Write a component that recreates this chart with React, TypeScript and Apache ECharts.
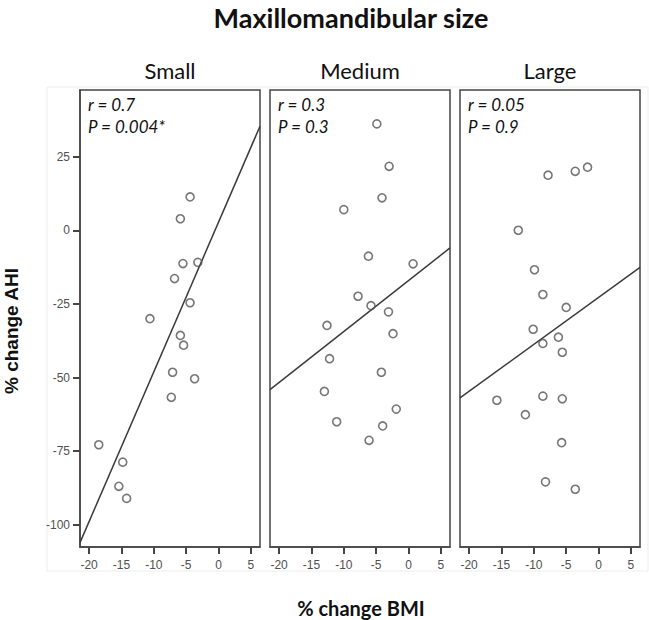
import React, { useEffect, useRef } from "react";
import * as echarts from "echarts";

const panelNames = ["Small", "Medium", "Large"];
const statR = ["r = 0.7", "r = 0.3", "r = 0.05"];
const statP = ["P = 0.004*", "P = 0.3", "P = 0.9"];

const xTicks = [-20, -15, -10, -5, 0, 5];
const yTicks = [-100, -75, -50, -25, 0, 25];

const smallBMI = [-4.4, -5.9, -5.5, -3.2, -6.8, -4.4, -10.6, -5.9, -5.4, -7.1, -3.7, -7.3, -18.5, -14.8, -15.4, -14.2];
const smallAHI = [11.3, 3.9, -11.3, -10.9, -16.4, -24.6, -30, -35.7, -39, -48.2, -50.4, -56.7, -72.8, -78.7, -86.9, -91];

const mediumBMI = [-4.9, -3.0, -4.1, -10.0, -6.2, 0.7, -7.8, -5.8, -3.1, -12.6, -2.4, -12.2, -4.2, -13.0, -1.9, -11.1, -4.0, -6.1];
const mediumAHI = [36.1, 21.7, 11.0, 7.0, -8.8, -11.4, -22.4, -25.6, -27.7, -32.3, -35.1, -43.6, -48.2, -54.7, -60.7, -65.0, -66.4, -71.3];

const largeBMI = [-7.8, -3.6, -1.7, -12.4, -9.9, -8.6, -5.0, -10.1, -6.2, -8.6, -5.6, -15.7, -8.6, -5.6, -11.3, -5.7, -8.2, -3.6];
const largeAHI = [18.7, 20.0, 21.4, 0.0, -13.4, -21.8, -26.2, -33.6, -36.3, -38.4, -41.4, -57.7, -56.3, -57.2, -62.6, -72.1, -85.4, -87.9];

const fitX = [-21.4, 6.4];
const smallFitY = [-106, 35.3];
const mediumFitY = [-54.1, -6];
const largeFitY = [-56.9, -12.6];

const X_MIN = -21.4;
const X_MAX = 6.4;
const Y_MIN = -107.5;
const Y_MAX = 47.6;

export default function App() {
  const ref = useRef<HTMLDivElement>(null);

  useEffect(() => {
    document.body.style.margin = "0";
    if (!ref.current) return;
    const chart = echarts.init(ref.current, null, { renderer: "svg" });

    const lefts = [80, 270, 460];
    const panelW = 180;
    const top = 90;
    const height = 457;

    const xs = [smallBMI, mediumBMI, largeBMI];
    const ys = [smallAHI, mediumAHI, largeAHI];
    const fits = [smallFitY, mediumFitY, largeFitY];

    const frameColor = "#454545";

    const grids = lefts.map((l) => ({
      left: l,
      top,
      width: panelW,
      height,
      show: true,
      borderColor: frameColor,
      borderWidth: 1.5,
      backgroundColor: "transparent",
    }));

    const xAxes = lefts.map((_, i) => ({
      type: "value",
      gridIndex: i,
      min: X_MIN,
      max: X_MAX,
      position: "bottom",
      splitLine: { show: false },
      axisLine: { show: true, onZero: false, lineStyle: { color: frameColor, width: 1.5 } },
      axisTick: {
        show: true,
        customValues: xTicks,
        length: 7,
        inside: false,
        lineStyle: { color: frameColor, width: 2 },
      },
      axisLabel: {
        customValues: xTicks,
        margin: 12,
        color: "#505050",
        fontFamily: "Liberation Sans",
        fontSize: 12,
      },
    }));

    const yAxes = lefts.map((_, i) => ({
      type: "value",
      gridIndex: i,
      min: Y_MIN,
      max: Y_MAX,
      position: "left",
      show: i === 0,
      splitLine: { show: false },
      axisLine: { show: true, onZero: false, lineStyle: { color: frameColor, width: 1.5 } },
      axisTick: {
        show: true,
        customValues: yTicks,
        length: 7,
        inside: false,
        lineStyle: { color: frameColor, width: 2 },
      },
      axisLabel: {
        customValues: yTicks,
        margin: 10,
        color: "#505050",
        fontFamily: "Liberation Sans",
        fontSize: 12,
      },
    }));

    const series: any[] = [];
    for (let i = 0; i < 3; i++) {
      series.push({
        type: "scatter",
        xAxisIndex: i,
        yAxisIndex: i,
        symbol: "circle",
        symbolSize: 8,
        itemStyle: { color: "rgba(255,255,255,0)", borderColor: "#555", borderWidth: 1.6 },
        data: xs[i].map((x, k) => [x, ys[i][k]]),
        z: 3,
      });
      series.push({
        type: "line",
        xAxisIndex: i,
        yAxisIndex: i,
        symbol: "none",
        lineStyle: { color: "#3a3a3a", width: 1.5 },
        data: fitX.map((x, k) => [x, fits[i][k]]),
        z: 2,
      });
    }

    const graphics: any[] = [
      {
        type: "rect",
        shape: { x: 47, y: 87, width: 601, height: 484 },
        style: { fill: "none", stroke: "#ededed", lineWidth: 1 },
        silent: true,
        z: -1,
      },
      {
        type: "text",
        x: 351,
        y: 17,
        style: {
          text: "Maxillomandibular size",
          font: "bold 27px Lato",
          fill: "#111",
          textAlign: "center",
          textVerticalAlign: "middle",
        },
      },
      {
        type: "text",
        x: 361,
        y: 608,
        style: {
          text: "% change BMI",
          font: "bold 20px Lato",
          fill: "#111",
          textAlign: "center",
          textVerticalAlign: "middle",
        },
      },
      {
        type: "text",
        x: 11,
        y: 331,
        rotation: Math.PI / 2,
        style: {
          text: "% change AHI",
          font: "bold 19px 'Liberation Sans'",
          fill: "#111",
          textAlign: "center",
          textVerticalAlign: "middle",
        },
      },
    ];

    lefts.forEach((l, i) => {
      graphics.push({
        type: "text",
        x: l + panelW / 2,
        y: 70,
        style: {
          text: panelNames[i],
          font: "22px Lato",
          fill: "#111",
          textAlign: "center",
          textVerticalAlign: "middle",
        },
      });
      graphics.push({
        type: "text",
        x: l + 8,
        y: 104.5,
        style: {
          text: statR[i],
          font: "italic 17px Lato",
          fill: "#111",
          textAlign: "left",
          textVerticalAlign: "middle",
        },
      });
      graphics.push({
        type: "text",
        x: l + 8,
        y: 126.5,
        style: {
          text: statP[i],
          font: "italic 17px Lato",
          fill: "#111",
          textAlign: "left",
          textVerticalAlign: "middle",
        },
      });
    });

    chart.setOption({
      animation: false,
      backgroundColor: "#ffffff",
      grid: grids,
      xAxis: xAxes,
      yAxis: yAxes,
      series,
      graphic: graphics,
    });

    return () => chart.dispose();
  }, []);

  return <div ref={ref} style={{ width: 649, height: 620 }} />;
}
